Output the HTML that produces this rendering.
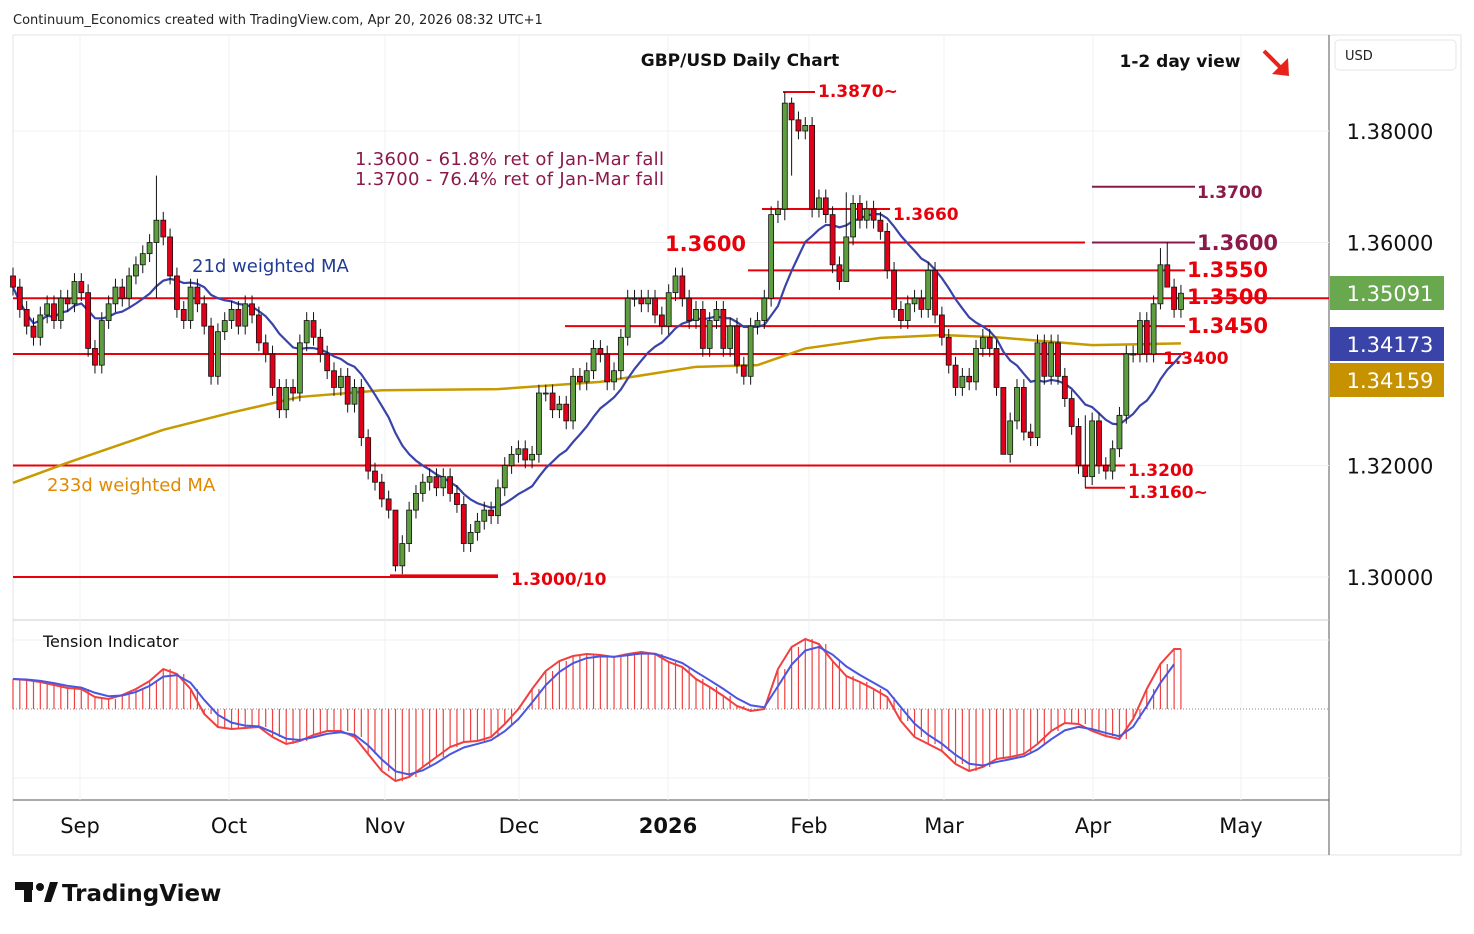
<!DOCTYPE html>
<html><head><meta charset="utf-8">
<style>
body{margin:0;background:#fff;font-family:"DejaVu Sans","Liberation Sans",sans-serif;}
svg text{font-family:"DejaVu Sans","Liberation Sans",sans-serif;}
</style></head>
<body>
<svg id="chart" width="1474" height="930" viewBox="0 0 1474 930" xmlns="http://www.w3.org/2000/svg">
<rect x="0" y="0" width="1474" height="930" fill="#fff"/>
<text x="13" y="24" font-size="13" fill="#222">Continuum_Economics created with TradingView.com, Apr 20, 2026 08:32 UTC+1</text>
<rect x="13" y="35" width="1448" height="820" fill="none" stroke="#e0e3eb"/>
<line x1="1329" y1="35" x2="1329" y2="855" stroke="#555"/>
<line x1="13" y1="620" x2="1329" y2="620" stroke="#ccc"/>
<line x1="13" y1="800" x2="1329" y2="800" stroke="#555"/>
<rect x="1335" y="40" width="121" height="30" rx="4" fill="#fff" stroke="#e6e6e6"/>
<text x="1345" y="60" font-size="13" fill="#222">USD</text>
<g id="grid"></g>
<g id="levels"></g>
<g id="mas"></g>
<g id="candles"></g>
<g id="tension"></g>
<g id="labels"></g>
<text x="740" y="66" font-size="17" font-weight="bold" fill="#111" text-anchor="middle">GBP/USD Daily Chart</text>
<text x="1180" y="67" font-size="17" font-weight="bold" fill="#111" text-anchor="middle">1-2 day view</text>
<g><line x1="1264" y1="51" x2="1285" y2="72" stroke="#e8231c" stroke-width="4"/><polygon points="1289,76 1288,58 1272,74" fill="#e8231c"/></g>
<text x="355" y="165" font-size="18" letter-spacing="0.3" fill="#8b1a4a">1.3600 - 61.8% ret of Jan-Mar fall</text>
<text x="355" y="185" font-size="18" letter-spacing="0.3" fill="#8b1a4a">1.3700 - 76.4% ret of Jan-Mar fall</text>
<text x="192" y="272" font-size="18" fill="#1f3c94">21d weighted MA</text>
<text x="47" y="491" font-size="18" fill="#e08a00">233d weighted MA</text>
<text x="43" y="647" font-size="16" fill="#111">Tension Indicator</text>
<g>
<rect x="15" y="882" width="18" height="8" fill="#111"/><rect x="24" y="882" width="8" height="20" fill="#111"/><circle cx="40" cy="887" r="4" fill="#111"/><polygon points="44,902 50,882 58,882 51,902" fill="#111"/>
<text x="62" y="901" font-size="23" font-weight="bold" fill="#111">TradingView</text></g>
</svg>
<script>
const NS="http://www.w3.org/2000/svg";
const closes=[1.352,1.348,1.345,1.343,1.347,1.349,1.346,1.350,1.349,1.353,
1.351,1.341,1.338,1.346,1.349,1.352,1.350,1.354,1.356,1.358,
1.360,1.364,1.361,1.354,1.348,1.346,1.352,1.349,1.345,1.336,
1.344,1.346,1.348,1.345,1.349,1.347,1.342,1.340,1.334,1.330,
1.334,1.333,1.342,1.346,1.343,1.340,1.337,1.334,1.336,1.331,
1.334,1.325,1.319,1.317,1.314,1.312,1.302,1.306,1.312,1.315,
1.317,1.318,1.316,1.318,1.315,1.313,1.306,1.308,1.310,1.312,
1.311,1.316,1.320,1.322,1.323,1.321,1.322,1.333,1.333,1.330,
1.331,1.328,1.336,1.335,1.337,1.341,1.340,1.335,1.337,1.343,
1.350,1.350,1.349,1.350,1.347,1.345,1.351,1.354,1.350,1.346,
1.348,1.341,1.346,1.348,1.341,1.345,1.338,1.336,1.345,1.346,
1.350,1.365,1.366,1.385,1.382,1.380,1.381,1.366,1.368,1.365,
1.356,1.353,1.361,1.367,1.364,1.366,1.364,1.362,1.355,1.348,
1.346,1.349,1.350,1.348,1.355,1.347,1.343,1.338,1.334,1.336,
1.335,1.341,1.343,1.341,1.334,1.322,1.328,1.334,1.326,1.325,
1.342,1.336,1.342,1.336,1.332,1.327,1.320,1.318,1.328,1.320,
1.319,1.323,1.329,1.340,1.340,1.346,1.340,1.349,1.356,1.352,
1.348,1.3509];
const firstOpen=1.354;
const wickUp=[0.0015];
const extremeIdx=[21,56,113,114,122,168,169,145,157];
const extremeHigh=[1.372,1.305,1.387,1.386,1.369,1.359,1.360,1.334,1.329];
const extremeLow=[1.350,1.301,1.364,1.372,1.354,1.348,1.352,1.322,1.316];
const ma233Idx=[0,8,22,32,42,54,71,86,100,109,116,127,136,144,158,171];
const ma233Val=[1.3169,1.3205,1.3264,1.3295,1.3323,1.3335,1.3337,1.3350,1.3377,1.3380,1.3410,1.3429,1.3434,1.3430,1.3416,1.3419];
const tensionRed=[30,29,27,24,21,20,12,10,14,20,28,40,35,20,-5,-18,-20,-19,-18,-28,-35,-32,-26,-22,-22,-28,-45,-62,-72,-68,-58,-48,-38,-33,-32,-28,-15,0,20,38,48,53,55,54,52,55,57,55,47,42,30,22,13,3,-2,0,40,62,70,65,48,33,27,20,12,-12,-28,-35,-42,-55,-62,-58,-50,-48,-45,-35,-22,-14,-15,-22,-27,-30,-10,20,45,60];
const priceTicks=[1.38,1.36,1.32,1.30];
const priceTickLabels=["1.38000","1.36000","1.32000","1.30000"];
const months=["Sep","Oct","Nov","Dec","2026","Feb","Mar","Apr","May"];
const monthX=[80,229,385,519,668,809,944,1093,1241];

const y=p=>131+(1.38-p)*5575;
const x=i=>13+i*6.83;
const ty=v=>709-v;
function mk(tag,attrs,parent){const e=document.createElementNS(NS,tag);for(const k in attrs)e.setAttribute(k,attrs[k]);document.getElementById(parent).appendChild(e);return e;}

priceTicks.forEach((p,k)=>{
 const g=mk('line',{x1:13,x2:1329,y1:y(p),y2:y(p),stroke:'#eef0f4'},'grid');
 
 
 const t=mk('text',{x:1390,y:y(p)+8,'font-size':21,fill:'#111','text-anchor':'middle'},'labels');
 t.textContent=priceTickLabels[k];
 
 
});
monthX.forEach((mx,k)=>{
 const g=mk('line',{x1:mx,x2:mx,y1:35,y2:800,stroke:'#eef0f4'},'grid');
 
 
 const t=mk('text',{x:mx,y:833,'font-size':21,fill:'#111','text-anchor':'middle','font-weight':months[k]==='2026'?'bold':'normal'},'labels');
 t.textContent=months[k];
 
 
});
[640,778].forEach(yy=>{const g=mk('line',{x1:13,x2:1329,y1:yy,y2:yy,stroke:'#eef0f4'},'grid');});

const levels=[[1.3500,13,1329,'#e8000b'],[1.3400,13,1185,'#e8000b'],[1.3200,13,1125,'#e8000b'],[1.3000,13,498,'#e8000b'],[1.3600,770,1085,'#e8000b'],[1.3550,748,1185,'#e8000b'],[1.3450,565,1185,'#e8000b'],[1.3660,762,890,'#e8000b'],[1.3870,783,815,'#e8000b'],[1.3160,1085,1125,'#e8000b'],[1.3700,1092,1195,'#8b1a4a'],[1.3600,1092,1195,'#8b1a4a'],[1.3003,390,498,'#e8000b']];
levels.forEach(l=>{const e=mk('line',{x1:l[1],x2:l[2],y1:y(l[0]),y2:y(l[0]),stroke:l[3],'stroke-width':2},'levels');});
const lvlLabels=[["1.3870~",818,91,17,'#e8000b'],["1.3660",893,214,17,'#e8000b'],["1.3600",665,251,21,'#e8000b'],["1.3700",1197,192,17,'#8b1a4a'],["1.3600",1197,250,21,'#8b1a4a'],["1.3550",1187,277,21,'#e8000b'],["1.3500",1187,304,21,'#e8000b'],["1.3450",1187,333,21,'#e8000b'],["1.3400",1163,358,17,'#e8000b'],["1.3200",1128,470,17,'#e8000b'],["1.3160~",1128,492,17,'#e8000b'],["1.3000/10",511,579,17,'#e8000b']];
lvlLabels.forEach(l=>{const t=mk('text',{x:l[1],y:l[2]+(l[3]==17?6:0),'font-size':l[3],fill:l[4],'font-weight':'bold'},'labels');t.textContent=l[0];});

let pts=ma233Idx.map((i,k)=>x(i)+','+y(ma233Val[k])).join(' ');
let m2=mk('polyline',{points:pts,fill:'none',stroke:'#c79a00','stroke-width':2.5},'mas');


const opens=closes.map((c,i)=>i?closes[i-1]:firstOpen);
let wpts=[];
for(let i=0;i<closes.length;i++){let s=0,w=0;for(let j=Math.max(0,i-20),k=1;j<=i;j++,k++){s+=closes[j]*k;w+=k;}wpts.push(x(i)+','+y(s/w));}
let m1=mk('polyline',{points:wpts.join(' '),fill:'none',stroke:'#3a44a8','stroke-width':2.2},'mas');



closes.forEach((c,i)=>{
 const o=opens[i];let hi=Math.max(o,c)+wickUp[0],lo=Math.min(o,c)-wickUp[0];
 const ei=extremeIdx.indexOf(i);if(ei>=0){hi=extremeHigh[ei];lo=extremeLow[ei];}
 const up=c>=o,cx=x(i);
 const w=mk('line',{x1:cx,x2:cx,y1:y(hi),y2:y(lo),stroke:'#111','stroke-width':1},'candles');
 
 
 const top=y(Math.max(o,c)),h=Math.max(1,y(Math.min(o,c))-top);
 const b=mk('rect',{x:cx-2.5,y:top,width:5,height:h,fill:up?'#5e9e3e':'#e0001a',stroke:'#111','stroke-width':0.8},'candles');
 
 
});

const zl=mk('line',{x1:13,x2:1329,y1:709,y2:709,stroke:'#888','stroke-dasharray':'1,2'},'tension');


closes.forEach((c,i)=>{const v=tensionRed[Math.min(tensionRed.length-1,Math.floor(i/2))];const b=mk('line',{x1:x(i),x2:x(i),y1:709,y2:ty(v),stroke:'#f04040','stroke-width':1.2},'tension');});
let rp=tensionRed.map((v,k)=>x(k*2)+','+ty(v));rp.push(x(171)+','+ty(tensionRed[tensionRed.length-1]));
let tr=mk('polyline',{points:rp.join(' '),fill:'none',stroke:'#f04040','stroke-width':2},'tension');


let e=tensionRed[0],bp=[];tensionRed.forEach((v,k)=>{e=e+(v-e)*0.55;bp.push(x(k*2)+','+ty(e));});
let tb=mk('polyline',{points:bp.join(' '),fill:'none',stroke:'#4a55e0','stroke-width':2},'tension');



const badges=[["1.35091",293,'#6aa84f'],["1.34173",344,'#3a44a8'],["1.34159",380,'#c69200']];
badges.forEach(bd=>{const r=mk('rect',{x:1330,y:bd[1]-17,width:114,height:34,fill:bd[2]},'labels');
const t=mk('text',{x:1390,y:bd[1]+8,'font-size':21,fill:'#fff','text-anchor':'middle'},'labels');t.textContent=bd[0];});
</script>
</body></html>
